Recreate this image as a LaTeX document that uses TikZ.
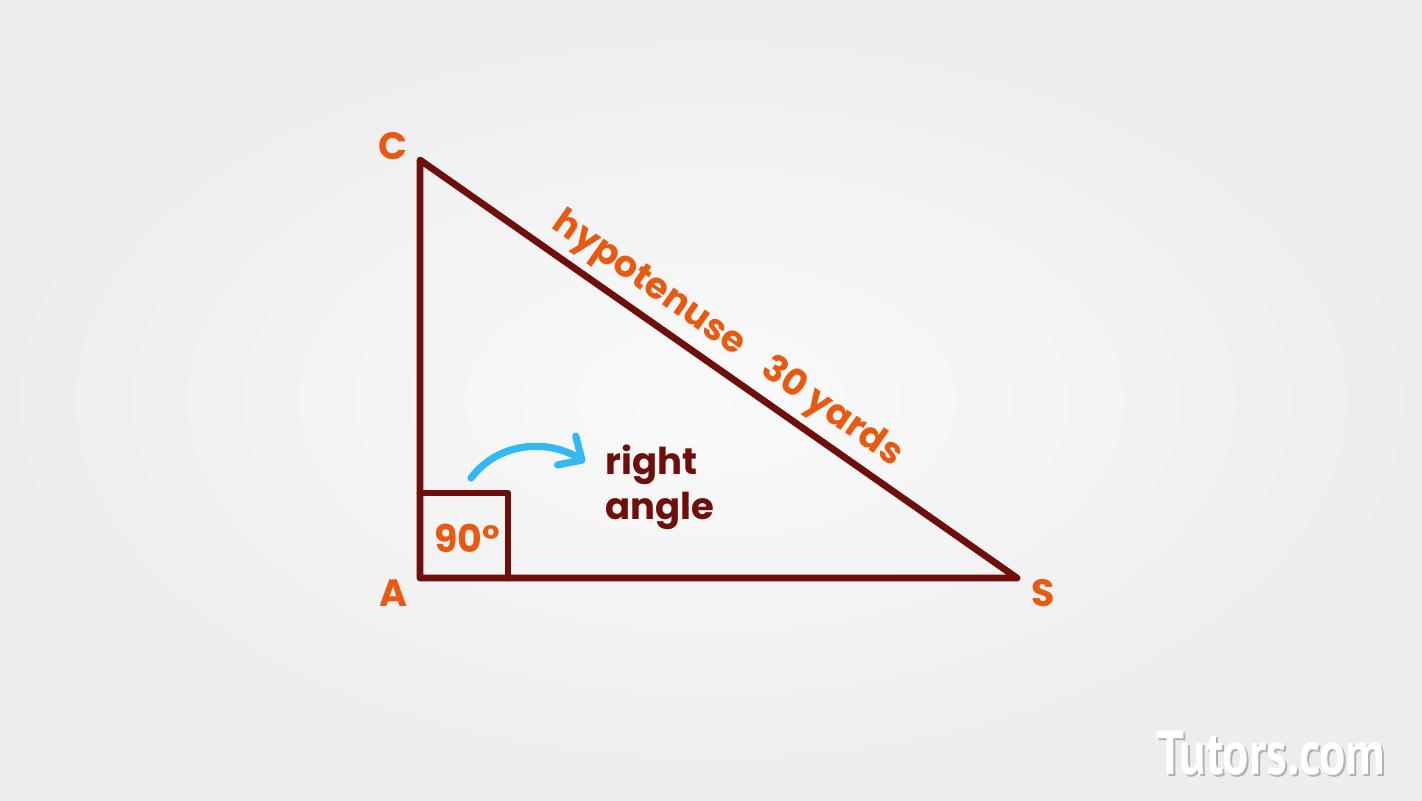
\documentclass[tikz,border=0pt]{standalone}
\usepackage{fontspec}
\setmainfont{Poppins}
\newfontfamily\logofont{PT Sans}
\usetikzlibrary{arrows.meta}
\definecolor{tri}{HTML}{6E0F0B}
\definecolor{lab}{HTML}{E85A12}
\definecolor{arr}{HTML}{33B8F2}
\begin{document}
\begin{tikzpicture}[x=0.5pt,y=-0.5pt,
  edge/.style={draw=tri,line width=3.4pt,line join=round,line cap=round},
  vlabel/.style={text=lab,font=\fontsize{19}{22}\selectfont\bfseries,inner sep=0pt},
  dlabel/.style={text=tri,font=\fontsize{18.5}{21.5}\selectfont\bfseries,inner sep=0pt,align=left},
  pointer/.style={draw=arr,line width=3.6pt,line cap=round,-{Straight Barb[round,length=9pt,width=17pt]}},
  logostyle/.style={font=\logofont\fontsize{31}{34}\selectfont\bfseries,inner sep=0pt,xscale=0.79}]
\useasboundingbox (0,0) rectangle (1422,800);
\shade[inner color=white!96!gray, outer color=white!86!gray] (0,0) rectangle (1422,800);
\coordinate (C) at (420,160);
\coordinate (A) at (420,578);
\coordinate (S) at (1017,578);
\coordinate (B1) at (420,493);
\coordinate (B2) at (508,493);
\coordinate (B3) at (508,578);
\draw[edge] (C) -- (A) -- (S) -- cycle;
\draw[edge] (B1) -- (B2) -- (B3);
\node[vlabel] (lc) at (393,146) {C};
\node[vlabel] (la) at (393,593) {A};
\node[vlabel] (ls) at (1043,593) {S};
\node[vlabel] (deg) at (467,538) {90°};
\node[vlabel,font=\fontsize{18.3}{20}\selectfont\bfseries,rotate=-35,anchor=base] (hyp) at (722,347) {hypotenuse\hspace{0.8em}30 yards};
\node[dlabel,anchor=north west] (ra) at (605,444) {right\\[1pt]angle};
\coordinate (p0) at (471,478);
\coordinate (p1) at (585,462);
\draw[pointer] (p0) .. controls (500,440) and (550,440) .. (p1);
\node[logostyle,text=black!45,opacity=0.6] (logosh) at (1273,755) {Tutors.com};
\node[logostyle,text=white] (logo) at (1271,753) {Tutors.com};
\end{tikzpicture}
\end{document}
